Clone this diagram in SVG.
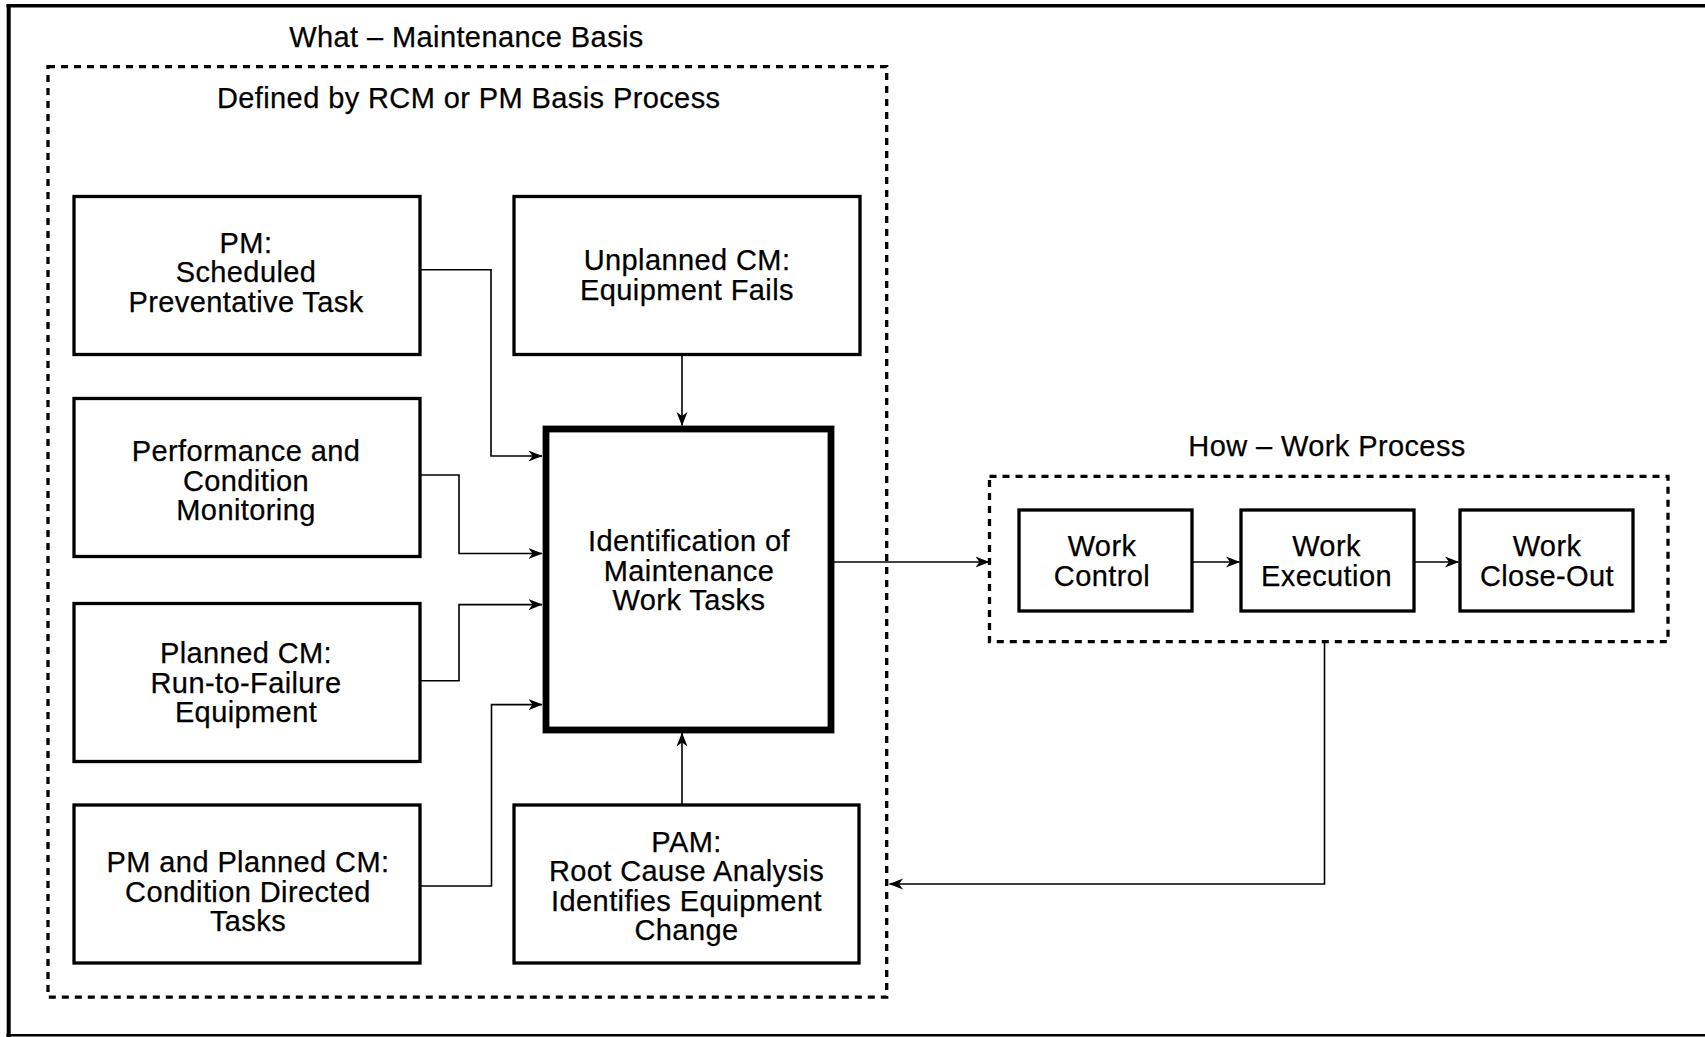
<svg xmlns="http://www.w3.org/2000/svg" width="1705" height="1037" viewBox="0 0 1705 1037">
  <style>
    text { font-family: "Liberation Sans", Arial, Helvetica, sans-serif; font-size: 29px; letter-spacing: 0.4px; fill: #000; stroke: #000; stroke-width: 0.25; text-anchor: middle; }
    .box { fill: #fff; stroke: #000; stroke-width: 3.3; }
    .main { fill: #fff; stroke: #000; stroke-width: 6.8; }
    .group { fill: none; stroke: #000; stroke-width: 3.3; stroke-dasharray: 7 6; }
    .frame { stroke: #000; fill: none; }
    .link { fill: none; stroke: #000; stroke-width: 1.6; marker-end: url(#arrow); }
  </style>
  <defs>
    <marker id="arrow" viewBox="0 0 14 12" refX="13.5" refY="6" markerWidth="14" markerHeight="12" markerUnits="userSpaceOnUse" orient="auto">
      <path d="M0,0.5 L14,6 L0,11.5 L4,6 Z" fill="#000"/>
    </marker>
  </defs>

  <rect width="1705" height="1037" fill="#fff"/>

  <!-- page frame (open on the right) -->
  <g id="frame">
    <line class="frame" x1="6.5" y1="5.7" x2="1705" y2="5.7" stroke-width="3.4"/>
    <line class="frame" x1="8.7" y1="4" x2="8.7" y2="1037" stroke-width="4"/>
    <line class="frame" x1="6.5" y1="1035.2" x2="1705" y2="1035.2" stroke-width="2.5"/>
  </g>

  <!-- maintenance basis boundary -->
  <g id="what-group">
    <text x="466.5" y="46.5">What – Maintenance Basis</text>
    <rect class="group" x="48" y="66.7" width="838.7" height="930.4"/>
    <text x="468.7" y="107.5">Defined by RCM or PM Basis Process</text>
  </g>

  <!-- work process boundary -->
  <g id="how-group">
    <text x="1327" y="456">How – Work Process</text>
    <rect class="group" x="989.5" y="476.3" width="678.5" height="165.3"/>
  </g>

  <!-- connectors -->
  <g id="connectors">
    <polyline class="link" points="420,269.7 491,269.7 491,456 542,456"/>
    <polyline class="link" points="420,475 459,475 459,553.5 542,553.5"/>
    <polyline class="link" points="420,680.7 459,680.7 459,604.6 542,604.6"/>
    <polyline class="link" points="420,886 491.5,886 491.5,704.6 542,704.6"/>
    <line class="link" x1="682" y1="354.5" x2="682" y2="425.5"/>
    <line class="link" x1="682" y1="805" x2="682" y2="733"/>
    <line class="link" x1="831" y1="562" x2="989" y2="562"/>
    <line class="link" x1="1192" y1="562" x2="1239.5" y2="562"/>
    <line class="link" x1="1414" y1="562" x2="1458.5" y2="562"/>
    <polyline class="link" points="1324.5,641.6 1324.5,884 889.5,884"/>
  </g>

  <!-- nodes -->
  <g id="pm-scheduled">
    <rect class="box" x="74" y="196.5" width="346" height="158"/>
    <text x="246"><tspan x="246" y="252.5">PM:</tspan><tspan x="246" y="282">Scheduled</tspan><tspan x="246" y="311.5">Preventative Task</tspan></text>
  </g>

  <g id="unplanned-cm">
    <rect class="box" x="514" y="196.5" width="346" height="158"/>
    <text x="687"><tspan x="687" y="270">Unplanned CM:</tspan><tspan x="687" y="299.5">Equipment Fails</tspan></text>
  </g>

  <g id="condition-monitoring">
    <rect class="box" x="74" y="398.5" width="346" height="158"/>
    <text x="246"><tspan x="246" y="461">Performance and</tspan><tspan x="246" y="490.5">Condition</tspan><tspan x="246" y="520">Monitoring</tspan></text>
  </g>

  <g id="identification">
    <rect class="main" x="546" y="429" width="285" height="301"/>
    <text x="689"><tspan x="689" y="551">Identification of</tspan><tspan x="689" y="580.5">Maintenance</tspan><tspan x="689" y="610">Work Tasks</tspan></text>
  </g>

  <g id="planned-cm">
    <rect class="box" x="74" y="603.5" width="346" height="158"/>
    <text x="246"><tspan x="246" y="663">Planned CM:</tspan><tspan x="246" y="692.5">Run-to-Failure</tspan><tspan x="246" y="722">Equipment</tspan></text>
  </g>

  <g id="condition-directed">
    <rect class="box" x="74" y="805" width="346" height="158"/>
    <text x="248"><tspan x="248" y="872">PM and Planned CM:</tspan><tspan x="248" y="901.5">Condition Directed</tspan><tspan x="248" y="931">Tasks</tspan></text>
  </g>

  <g id="pam">
    <rect class="box" x="514" y="805" width="345" height="158"/>
    <text x="686.5"><tspan x="686.5" y="851.5">PAM:</tspan><tspan x="686.5" y="881">Root Cause Analysis</tspan><tspan x="686.5" y="910.5">Identifies Equipment</tspan><tspan x="686.5" y="940">Change</tspan></text>
  </g>

  <g id="work-control">
    <rect class="box" x="1019" y="510" width="173" height="101"/>
    <text x="1102"><tspan x="1102" y="556">Work</tspan><tspan x="1102" y="585.5">Control</tspan></text>
  </g>

  <g id="work-execution">
    <rect class="box" x="1241" y="510" width="173" height="101"/>
    <text x="1326.5"><tspan x="1326.5" y="556">Work</tspan><tspan x="1326.5" y="585.5">Execution</tspan></text>
  </g>

  <g id="work-close-out">
    <rect class="box" x="1460" y="510" width="173" height="101"/>
    <text x="1547"><tspan x="1547" y="556">Work</tspan><tspan x="1547" y="585.5">Close-Out</tspan></text>
  </g>
</svg>
